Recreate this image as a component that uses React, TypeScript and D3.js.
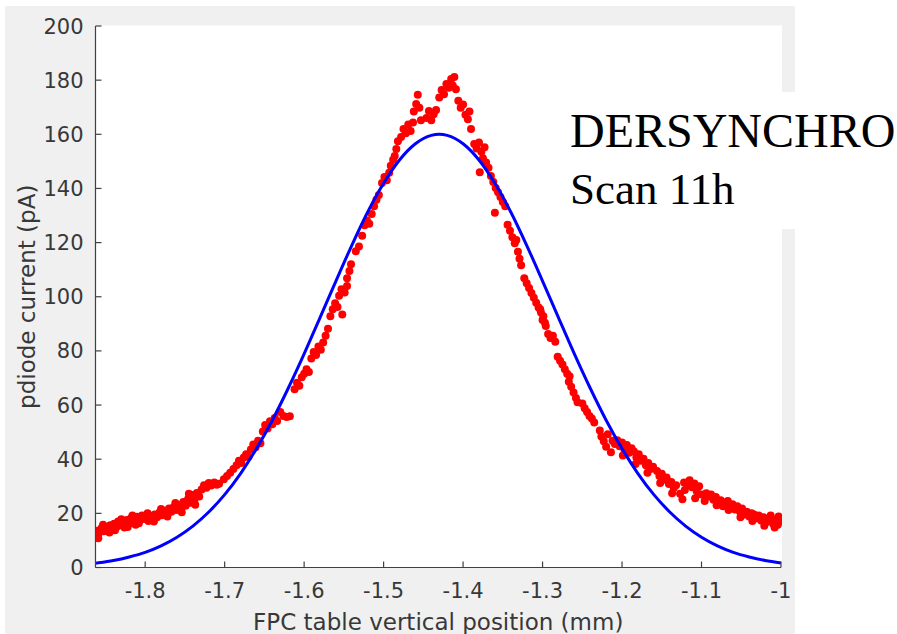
import React from "react";
import * as d3 from "d3";

const xTicks = [-1.8, -1.7, -1.6, -1.5, -1.4, -1.3, -1.2, -1.1, -1.0];
const xTickLabels = ["-1.8", "-1.7", "-1.6", "-1.5", "-1.4", "-1.3", "-1.2", "-1.1", "-1"];
const yTicks = [0, 20, 40, 60, 80, 100, 120, 140, 160, 180, 200];
const yTickLabels = ["0", "20", "40", "60", "80", "100", "120", "140", "160", "180", "200"];

const xLabel = "FPC table vertical position (mm)";
const yLabel = "pdiode current (pA)";
const titleLines = ["DERSYNCHRO", "Scan 11h"];

// Gaussian fit curve (blue)
const fitX = [
  -1.8625, -1.86, -1.84, -1.82, -1.8, -1.78, -1.76, -1.74, -1.72, -1.7, -1.68, -1.66, -1.64, -1.62,
  -1.6, -1.58, -1.56, -1.54, -1.52, -1.5, -1.48, -1.46, -1.44, -1.43, -1.42, -1.4, -1.38, -1.36,
  -1.34, -1.32, -1.3, -1.28, -1.26, -1.24, -1.22, -1.2, -1.18, -1.16, -1.14, -1.12, -1.1, -1.08,
  -1.06, -1.04, -1.02, -1.0,
];
const fitY = [
  1.6, 1.7, 2.6, 3.9, 5.6, 8.0, 11.2, 15.3, 20.5, 26.9, 34.7, 43.9, 54.4, 66.2, 78.9, 92.3, 105.8,
  119.0, 131.3, 141.9, 150.5, 156.5, 159.6, 160.0, 159.6, 156.5, 150.5, 141.9, 131.3, 119.0, 105.8,
  92.3, 78.9, 66.2, 54.4, 43.9, 34.7, 26.9, 20.5, 15.3, 11.2, 8.0, 5.6, 3.9, 2.6, 1.7,
];

// measured photodiode current (red dots)
const scanPoints: [number, number][] = [
  [-1.862, 12.0], [-1.861, 13.6], [-1.858, 12.8], [-1.855, 14.5], [-1.852, 13.4], [-1.849, 15.0],
  [-1.847, 13.9], [-1.844, 15.6], [-1.842, 14.3], [-1.839, 16.2], [-1.836, 15.0], [-1.834, 17.0],
  [-1.831, 15.6], [-1.828, 16.6], [-1.826, 14.8], [-1.823, 17.5], [-1.82, 16.2], [-1.818, 18.2],
  [-1.815, 16.9], [-1.812, 15.8], [-1.81, 18.7], [-1.807, 17.4], [-1.804, 19.2], [-1.802, 17.9],
  [-1.799, 18.4], [-1.796, 17.2], [-1.794, 19.0], [-1.791, 18.0], [-1.788, 19.6], [-1.785, 18.6],
  [-1.782, 20.3], [-1.779, 19.3], [-1.776, 21.0], [-1.773, 20.1], [-1.77, 21.8], [-1.767, 20.6],
  [-1.764, 22.3], [-1.761, 21.2], [-1.758, 23.0], [-1.755, 21.9], [-1.752, 24.2], [-1.749, 22.8],
  [-1.746, 25.3], [-1.743, 23.9], [-1.741, 26.8], [-1.738, 25.0], [-1.735, 27.5], [-1.732, 26.2],
  [-1.859, 10.8], [-1.853, 15.8], [-1.845, 12.9], [-1.838, 13.8], [-1.830, 17.8], [-1.822, 15.0],
  [-1.816, 19.2], [-1.808, 16.3], [-1.797, 20.0], [-1.789, 17.0], [-1.780, 21.6], [-1.772, 18.8],
  [-1.762, 23.8], [-1.754, 20.4], [-1.745, 27.2], [-1.737, 23.2],
  [-1.729, 28.8], [-1.726, 30.4], [-1.723, 29.5], [-1.72, 31.2], [-1.717, 30.3], [-1.713, 31.4],
  [-1.71, 30.6], [-1.707, 30.9],
  [-1.701, 32.6], [-1.697, 33.8], [-1.693, 35.0], [-1.689, 36.4], [-1.685, 37.8], [-1.682, 39.4],
  [-1.679, 38.6], [-1.676, 40.6], [-1.673, 41.8], [-1.67, 40.9],
  [-1.667, 43.6], [-1.664, 45.4], [-1.661, 44.4], [-1.658, 46.8], [-1.655, 45.9],
  [-1.652, 50.2], [-1.649, 52.6], [-1.646, 51.3], [-1.643, 54.0], [-1.64, 52.9], [-1.637, 55.2],
  [-1.634, 54.1],
  [-1.63, 57.4], [-1.626, 56.0], [-1.622, 55.6], [-1.618, 55.9],
  [-1.612, 65.8], [-1.609, 68.2], [-1.606, 67.1], [-1.603, 70.3], [-1.6, 71.6], [-1.597, 73.2],
  [-1.594, 72.2],
  [-1.591, 77.2], [-1.588, 79.6], [-1.585, 78.5], [-1.582, 81.6], [-1.579, 80.4], [-1.576, 83.1],
  [-1.573, 85.6], [-1.57, 88.2],
  [-1.567, 92.8], [-1.564, 95.4], [-1.561, 97.6], [-1.558, 96.2], [-1.552, 93.4],
  [-1.556, 100.4], [-1.553, 102.8], [-1.549, 101.6], [-1.546, 104.0],
  [-1.546, 106.8], [-1.543, 109.5], [-1.541, 112.0],
  [-1.535, 116.8], [-1.531, 118.6],
  [-1.527, 122.5], [-1.524, 126.4], [-1.521, 128.2], [-1.518, 127.0], [-1.515, 130.6],
  [-1.512, 133.4], [-1.509, 135.8], [-1.506, 137.6],
  [-1.502, 142.0], [-1.499, 144.2], [-1.496, 143.0], [-1.493, 145.8],
  [-1.491, 148.4], [-1.488, 150.6], [-1.486, 152.0], [-1.484, 154.6], [-1.482, 157.4],
  [-1.478, 159.0], [-1.475, 162.0], [-1.472, 160.4], [-1.469, 163.6], [-1.466, 161.2], [-1.463, 164.4],
  [-1.462, 168.4], [-1.459, 171.2], [-1.457, 174.6], [-1.455, 169.8], [-1.453, 165.2],
  [-1.446, 166.0], [-1.443, 168.6], [-1.44, 165.2], [-1.437, 167.4], [-1.434, 169.0],
  [-1.43, 173.6], [-1.427, 176.4], [-1.424, 174.8], [-1.421, 178.6], [-1.418, 177.2], [-1.415, 180.4],
  [-1.413, 178.0], [-1.411, 181.2], [-1.409, 176.6],
  [-1.406, 172.4], [-1.403, 169.8], [-1.4, 171.0], [-1.397, 167.2], [-1.394, 165.6], [-1.392, 168.4],
  [-1.39, 162.0],
  [-1.386, 156.4], [-1.383, 154.8], [-1.38, 157.0], [-1.377, 153.6], [-1.373, 155.2],
  [-1.379, 146.0], [-1.375, 151.2], [-1.371, 149.6], [-1.368, 147.6], [-1.365, 144.6],
  [-1.362, 142.4], [-1.359, 140.2], [-1.356, 138.6], [-1.353, 136.8], [-1.35, 135.0], [-1.347, 133.4],
  [-1.36, 131.0],
  [-1.344, 126.6], [-1.341, 124.4], [-1.338, 122.0], [-1.335, 119.8], [-1.333, 121.0],
  [-1.331, 116.6], [-1.329, 114.0], [-1.327, 111.6],
  [-1.323, 106.8], [-1.32, 105.0], [-1.317, 103.2], [-1.314, 101.4],
  [-1.311, 99.6], [-1.308, 97.8], [-1.305, 96.0], [-1.302, 94.2], [-1.299, 92.8], [-1.297, 90.4],
  [-1.303, 95.4], [-1.3, 91.4], [-1.296, 89.2],
  [-1.293, 86.2], [-1.29, 84.8], [-1.287, 85.6], [-1.284, 83.4],
  [-1.281, 77.8], [-1.278, 76.4], [-1.275, 75.0], [-1.272, 73.2], [-1.269, 71.6], [-1.266, 70.6],
  [-1.267, 68.6], [-1.264, 66.8], [-1.261, 64.6], [-1.258, 62.6], [-1.256, 61.0],
  [-1.25, 60.6], [-1.247, 58.8], [-1.244, 57.4], [-1.241, 56.0], [-1.238, 55.0], [-1.235, 53.6],
  [-1.228, 50.6], [-1.226, 48.4], [-1.223, 46.6], [-1.22, 44.6], [-1.218, 49.2],
  [-1.212, 46.8], [-1.209, 45.6], [-1.206, 47.0], [-1.203, 44.8], [-1.2, 46.2], [-1.197, 43.6],
  [-1.194, 45.2], [-1.191, 42.4], [-1.188, 44.0],
  [-1.185, 42.8], [-1.182, 40.6], [-1.179, 41.8], [-1.176, 39.4], [-1.173, 40.2], [-1.17, 37.8],
  [-1.167, 38.6], [-1.164, 36.4], [-1.161, 37.2],
  [-1.156, 35.6], [-1.153, 33.8], [-1.15, 34.6], [-1.147, 32.4], [-1.144, 33.2], [-1.141, 30.8],
  [-1.138, 31.6], [-1.135, 29.4], [-1.132, 30.4],
  [-1.127, 27.2], [-1.124, 25.2], [-1.121, 28.6], [-1.118, 30.4], [-1.115, 32.2], [-1.112, 29.6],
  [-1.109, 31.0], [-1.106, 28.2], [-1.103, 30.0], [-1.1, 27.0],
  [-1.094, 27.4], [-1.091, 26.2], [-1.088, 27.0], [-1.085, 25.0], [-1.082, 26.0], [-1.079, 23.8],
  [-1.076, 24.8], [-1.073, 22.6], [-1.07, 24.0],
  [-1.067, 24.6], [-1.064, 22.4], [-1.061, 23.4], [-1.058, 21.4], [-1.055, 22.6], [-1.052, 20.8],
  [-1.049, 21.8], [-1.046, 19.6], [-1.043, 20.6], [-1.04, 18.8], [-1.037, 20.0],
  [-1.034, 19.6], [-1.031, 18.2], [-1.028, 19.2], [-1.025, 17.4], [-1.022, 18.6], [-1.019, 16.6],
  [-1.016, 17.8], [-1.013, 19.2], [-1.01, 16.2], [-1.007, 17.6], [-1.004, 15.8], [-1.002, 17.0],
  [-1.214, 42.6], [-1.199, 41.4], [-1.183, 38.2], [-1.168, 35.0], [-1.152, 31.2], [-1.137, 27.4],
  [-1.122, 31.4], [-1.108, 25.6], [-1.096, 24.6], [-1.081, 23.0], [-1.066, 21.2], [-1.051, 18.6],
  [-1.036, 17.2], [-1.021, 15.4], [-1.008, 14.8], [-1.003, 18.8],
];

export default function App() {
  const W = 897;
  const H = 634;
  const left = 95.5;
  const right = 781;
  const top = 26;
  const bottom = 567.5;

  const x = d3.scaleLinear().domain([-1.8625, -1]).range([left, right]);
  const y = d3.scaleLinear().domain([0, 200]).range([bottom, top]);

  const fitLine = d3
    .line<number>()
    .x((_, i) => x(fitX[i]))
    .y((d) => y(d))
    .curve(d3.curveMonotoneX)(fitY) as string;

  const axisColor = "#404040";
  const textColor = "#383838";
  const sans = "'DejaVu Sans', sans-serif";

  return (
    <svg
      width={W}
      height={H}
      viewBox={`0 0 ${W} ${H}`}
      style={{ position: "absolute", left: 0, top: 0, display: "block", background: "#ffffff" }}
    >
      <defs>
        <clipPath id="plotClip">
          <rect x={left} y={top - 1} width={right - left + 1} height={bottom - top + 1} />
        </clipPath>
      </defs>
      {/* figure background */}
      <rect x={5} y={6} width={790} height={H - 6} fill="#f0f0f0" />
      {/* axes background */}
      <rect x={left} y={25.5} width={right - left + 1} height={bottom - 25.5} fill="#ffffff" />

      {/* data */}
      <g clipPath="url(#plotClip)">
        {scanPoints.map(([px, py], i) => (
          <circle key={i} cx={x(px)} cy={y(py)} r={4} fill="#ff0000" />
        ))}
        <path d={fitLine} fill="none" stroke="#0000ff" strokeWidth={3} />
      </g>

      {/* axes */}
      <line x1={left} x2={left} y1={top} y2={bottom} stroke={axisColor} strokeWidth={1.2} />
      <line x1={left} x2={right} y1={bottom} y2={bottom} stroke={axisColor} strokeWidth={1.2} />
      {yTicks.map((t, i) => (
        <g key={"y" + t}>
          <line x1={left} x2={left + 6} y1={y(t)} y2={y(t)} stroke={axisColor} strokeWidth={1.2} />
          <text
            x={left - 12}
            y={y(t)}
            dy="0.36em"
            textAnchor="end"
            fontFamily={sans}
            fontSize={21}
            fill={textColor}
          >
            {yTickLabels[i]}
          </text>
        </g>
      ))}
      {xTicks.map((t, i) => (
        <g key={"x" + t}>
          <line x1={x(t)} x2={x(t)} y1={bottom} y2={bottom - 6} stroke={axisColor} strokeWidth={1.2} />
          <text
            x={x(t)}
            y={598}
            textAnchor="middle"
            fontFamily={sans}
            fontSize={21}
            fill={textColor}
          >
            {xTickLabels[i]}
          </text>
        </g>
      ))}

      <text
        x={(left + right) / 2}
        y={630}
        textAnchor="middle"
        fontFamily={sans}
        fontSize={23}
        fill={textColor}
      >
        {xLabel}
      </text>
      <text
        transform={`translate(35, ${(top + bottom) / 2}) rotate(-90)`}
        textAnchor="middle"
        fontFamily={sans}
        fontSize={23}
        fill={textColor}
      >
        {yLabel}
      </text>

      {/* annotation box */}
      <rect x={555} y={92} width={W - 555} height={137} fill="#ffffff" />
      <text x={570} y={147} fontFamily="'Liberation Serif', serif" fontSize={48} fill="#000000">
        {titleLines[0]}
      </text>
      <text x={570} y={204} fontFamily="'Liberation Serif', serif" fontSize={45} fill="#000000">
        {titleLines[1]}
      </text>
    </svg>
  );
}
